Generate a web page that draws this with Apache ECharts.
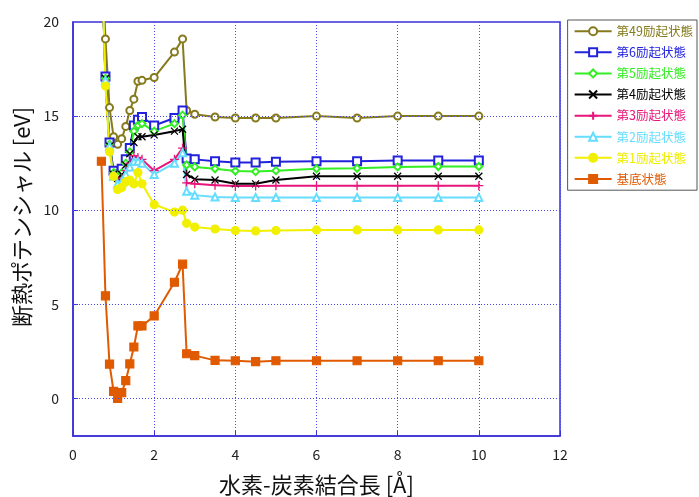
<!DOCTYPE html>
<html>
<head>
<meta charset="utf-8">
<script src="https://cdn.jsdelivr.net/npm/echarts@6/dist/echarts.min.js"></script>
<style>
  html, body { margin: 0; padding: 0; background: #fff; }
  #chart { width: 699px; height: 497px; }
</style>
</head>
<body>
<div id="chart"></div>
<script>
// 結合長 [Å]
const bondLength = [0.7, 0.8, 0.9, 1.0, 1.1, 1.2, 1.3, 1.4, 1.5, 1.6, 1.7, 2.0, 2.5, 2.7, 2.8, 3.0, 3.5, 4.0, 4.5, 5, 6, 7, 8, 9, 10]

// 断熱ポテンシャル [eV]
const state49 = [24, 19.1, 15.45, 13.9, 13.5, 13.8, 14.45, 15.3, 15.9, 16.85, 16.9, 17.05, 18.4, 19.1, 15.3, 15.1, 14.95, 14.9, 14.9, 14.9, 15.0, 14.9, 15.0, 15.0, 15.0]
const state6 = [24, 17.1, 13.6, 12.1, 11.9, 12.2, 12.7, 13.3, 14.5, 14.8, 14.95, 14.5, 14.9, 15.3, 12.75, 12.7, 12.6, 12.53, 12.53, 12.58, 12.6, 12.6, 12.64, 12.64, 12.64]
const state5 = [24, 17.0, 13.5, 12.0, 11.8, 12.0, 12.5, 13.1, 14.2, 14.5, 14.6, 14.2, 14.6, 15.05, 12.4, 12.3, 12.2, 12.08, 12.05, 12.1, 12.2, 12.23, 12.3, 12.32, 12.32]
const state4 = [24, 17.0, 13.4, 11.9, 11.7, 11.9, 12.4, 13.0, 13.6, 13.9, 13.9, 14.0, 14.2, 14.3, 11.9, 11.65, 11.6, 11.4, 11.4, 11.6, 11.8, 11.8, 11.8, 11.8, 11.8]
const state3 = [24, 16.9, 13.4, 11.9, 11.6, 11.7, 12.1, 12.5, 12.9, 12.8, 12.7, 12.1, 12.7, 13.3, 11.45, 11.4, 11.33, 11.29, 11.28, 11.3, 11.3, 11.3, 11.3, 11.3, 11.3]
const state2 = [24, 16.9, 13.4, 11.8, 11.4, 11.5, 11.9, 12.3, 12.6, 12.6, 12.5, 11.9, 12.5, 13.05, 11.0, 10.8, 10.7, 10.68, 10.68, 10.68, 10.68, 10.68, 10.68, 10.68, 10.68]
const state1 = [24, 16.6, 13.1, 11.8, 11.1, 11.2, 11.5, 11.6, 11.4, 12.0, 11.4, 10.3, 9.9, 10.0, 9.3, 9.1, 9.0, 8.92, 8.9, 8.92, 8.95, 8.95, 8.95, 8.95, 8.95]
const ground = [12.6, 5.45, 1.82, 0.37, 0.0, 0.3, 0.94, 1.83, 2.73, 3.85, 3.85, 4.38, 6.17, 7.13, 2.37, 2.27, 2.02, 2.0, 1.95, 2.0, 2.0, 2.0, 2.0, 2.0, 2.0]

const yLabels = [0, 5, 10, 15, 20]
const yGrid = [0, 5, 10, 15]

const FONT = 'Noto Sans CJK JP'
const frameColor = '#3a30d8'
const gridColor = '#4a48f0'

const crossPath = 'path://M0,0 L10,10 M10,0 L0,10'
const plusPath = 'path://M5,0 L5,10 M0,5 L10,5'

const seriesDefs = [
  { name: '第49励起状態', ys: state49, color: '#857a1c', symbol: 'emptyCircle', size: 7 },
  { name: '第6励起状態', ys: state6, color: '#2222dd', symbol: 'emptyRect', size: 8 },
  { name: '第5励起状態', ys: state5, color: '#33ee22', symbol: 'emptyDiamond', size: 7 },
  { name: '第4励起状態', ys: state4, color: '#000000', symbol: crossPath, size: 7 },
  { name: '第3励起状態', ys: state3, color: '#e8157a', symbol: plusPath, size: 9 },
  { name: '第2励起状態', ys: state2, color: '#66ddff', symbol: 'emptyTriangle', size: 7 },
  { name: '第1励起状態', ys: state1, color: '#f0f000', symbol: 'circle', size: 8 },
  { name: '基底状態', ys: ground, color: '#e05a00', symbol: 'rect', size: 8 }
]

const series = seriesDefs.map((d) => {
  const isPath = d.symbol.startsWith('path://')
  return {
    name: d.name,
    type: 'line',
    data: bondLength.map((x, i) => [x, d.ys[i]]),
    symbol: d.symbol,
    symbolSize: d.size,
    showAllSymbol: true,
    clip: true,
    lineStyle: { color: d.color, width: 2 },
    itemStyle: isPath
      ? { color: d.color, borderColor: d.color, borderWidth: 1.3 }
      : { color: d.color, borderColor: d.color, borderWidth: 1.2 },
    emphasis: { disabled: true }
  }
})

// 横の補助線
series.unshift({
  name: 'grid',
  type: 'line',
  data: [],
  silent: true,
  markLine: {
    silent: true,
    symbol: 'none',
    label: { show: false },
    lineStyle: { color: gridColor, type: [1, 2], width: 1 },
    data: yGrid.map((v) => ({ yAxis: v }))
  }
})

const myChart = echarts.init(document.getElementById('chart'))
myChart.setOption({
  animation: false,
  backgroundColor: '#ffffff',
  textStyle: { fontFamily: FONT },
  grid: {
    left: 73, top: 22, right: 139, bottom: 61,
    outerBoundsMode: 'none',
    show: true, borderColor: frameColor, borderWidth: 1.5, backgroundColor: 'transparent'
  },
  legend: {
    orient: 'vertical',
    right: 2,
    top: 20,
    padding: [5, 4, 5, 6],
    borderColor: '#555',
    borderWidth: 1,
    itemWidth: 37,
    itemHeight: 10,
    itemGap: 8.6,
    textStyle: { fontSize: 12.5, fontFamily: FONT },
    data: seriesDefs.map((d) => ({ name: d.name, textStyle: { color: d.color === '#f0f000' ? '#eeee00' : d.color } }))
  },
  xAxis: {
    type: 'value',
    min: 0,
    max: 12,
    interval: 2,
    name: '水素-炭素結合長 [Å]',
    nameLocation: 'middle',
    nameGap: 38,
    nameTextStyle: { fontSize: 22, color: '#111', fontFamily: FONT },
    axisLine: { onZero: false, lineStyle: { color: frameColor, width: 1.5 } },
    axisTick: { inside: true, length: 5, lineStyle: { color: frameColor } },
    axisLabel: { fontSize: 14, color: '#222', margin: 12 },
    splitLine: { show: true, lineStyle: { color: gridColor, type: [1, 2], width: 1 } }
  },
  yAxis: {
    type: 'value',
    min: -2,
    max: 20,
    name: '断熱ポテンシャル [eV]',
    nameLocation: 'middle',
    nameGap: 40,
    nameTextStyle: { fontSize: 22, color: '#111', fontFamily: FONT, padding: [0, 0, 0, 24] },
    axisLine: { onZero: false, lineStyle: { color: frameColor, width: 1.5 } },
    axisTick: { inside: true, length: 5, customValues: yGrid, lineStyle: { color: frameColor } },
    axisLabel: { fontSize: 14, color: '#222', margin: 14, customValues: yLabels },
    splitLine: { show: false }
  },
  series: series
})
</script>
</body>
</html>
